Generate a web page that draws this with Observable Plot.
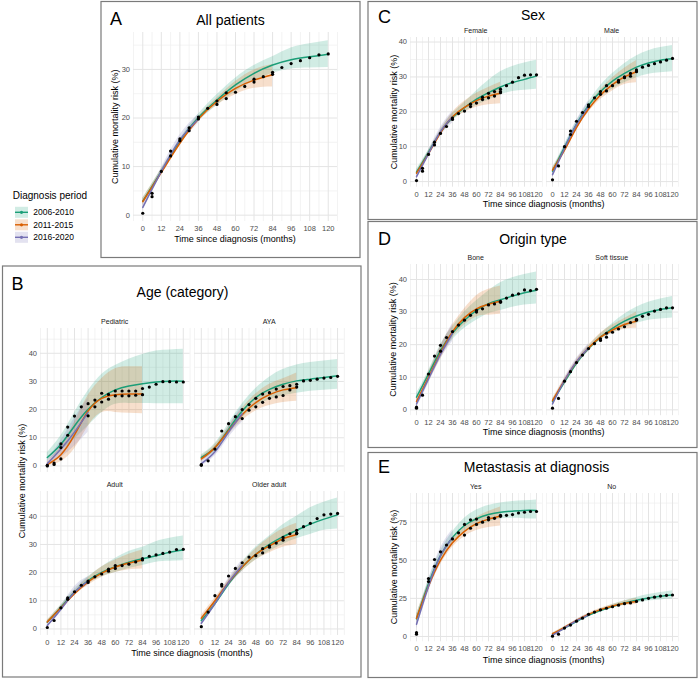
<!DOCTYPE html>
<html><head><meta charset="utf-8">
<script src="https://cdn.jsdelivr.net/npm/d3@7"></script>
<script src="https://cdn.jsdelivr.net/npm/@observablehq/plot@0.6"></script>
<style>
body{margin:0;background:#fff;}
#fig{position:relative;width:700px;height:679px;overflow:hidden;background:#fff;font-family:"Liberation Sans",Arial,sans-serif;}
</style></head><body><div id="fig"></div>
<script>
// ---------- data ----------
const periods = ["2006-2010", "2011-2015", "2016-2020"];
const colors = ["#1b9e77", "#d95f02", "#7570b3"];
const times = [0, 12, 24, 36, 48, 60, 72, 84, 96, 108, 120];
const xMajor = [0, 12, 24, 36, 48, 60, 72, 84, 96, 108, 120];
const xMinor = [-6, 6, 18, 30, 42, 54, 66, 78, 90, 102, 114, 126];
// rows: [fit, lower, upper] at times[i]
// A  All patients
const allG = [[2.9,2.2,3.5],[9.0,8.5,9.5],[15.3,14.8,15.7],[20.1,19.3,20.8],[23.7,22.6,24.8],[26.8,25.4,28.2],[29.2,27.6,30.8],[30.9,29.2,32.6],[32.0,30.1,34.4],[32.6,30.3,35.3],[33.1,30.4,35.9]];
const allO = [[2.8,2.0,3.5],[8.8,8.2,9.4],[14.8,14.3,15.3],[19.8,19.3,20.3],[23.4,22.6,24.1],[26.1,24.8,27.5],[27.8,26.1,29.9],[28.9,26.4,31.0]];
const allP = [[1.6,0.9,2.2],[9.0,8.3,9.7],[15.5,14.5,16.5],[19.8,18.9,20.8]];
const allDots = [[0,0.4],[6,4.5,3.8],[12,9.0],[18,13.2,12.2],[24,15.7,15.3],[30,18.0,17.4],[36,20.2,19.8],[42,22.0],[48,23.5,22.8],[54,25.2,24.0],[60,25.3],[66,26.5],[72,28.0,27.4],[78,28.5],[84,29.4,29.0],[90,30.4],[96,31.2],[102,31.8],[108,32.4],[114,33.0],[120,33.2]];
// B  Age (category)
const pedG = [[3.0,1.8,4.7],[7.7,5.3,10.7],[14.2,9.5,18.9],[20.1,14.2,26.6],[24.3,18.9,32.5],[27.0,21.9,35.7],[28.4,22.2,37.9],[29.2,22.2,39.6],[29.8,22.1,40.8],[30.1,22.1,41.2],[30.1,22.1,41.4]];
const pedO = [[0.5,0.0,1.5],[4.0,1.5,7.0],[11.0,6.0,15.5],[19.5,14.0,25.0],[24.0,18.9,31.0],[25.3,19.0,34.5],[25.5,18.7,35.2],[25.5,18.5,35.2]];
const pedP = [[0.8,0.0,2.0],[6.0,3.0,9.0],[12.0,7.0,17.0],[19.0,12.0,24.0]];
const pedDots = [[0,0.0,0.2],[6,0.5,1.0],[12,2.5,6.5,7.8],[18,13.8,10.9],[24,17.7],[30,21.0],[36,22.1,17.8],[42,23.4,21.0],[48,25.8,22.7],[54,25.4,23.7],[60,26.6,24.9],[66,26.6,24.9],[72,26.6,24.9],[78,26.6,25.1],[84,27.5,25.3],[90,28.0],[96,29.0],[102,29.9],[108,29.9],[114,29.8],[120,29.8]];
const ayaG = [[3.0,2.0,4.0],[6.5,5.0,8.0],[13.0,11.0,15.0],[19.5,17.0,22.0],[24.3,21.0,27.5],[27.2,23.5,31.5],[29.0,24.9,34.2],[30.2,25.8,35.8],[30.8,26.5,36.7],[31.4,26.9,37.3],[32.0,27.2,37.8]];
const ayaO = [[2.5,1.5,3.5],[6.5,5.5,7.5],[12.5,11.0,14.0],[18.2,16.0,20.5],[22.5,19.5,25.5],[25.3,21.5,29.0],[27.0,22.5,31.0],[27.8,23.0,33.0]];
const ayaP = [[0.8,0.0,2.0],[5.0,3.5,6.5],[12.0,10.0,14.0],[18.5,15.5,21.5]];
const ayaDots = [[0,0.2,0.5],[6,1.8],[12,6.0],[18,12.4],[24,15.0],[30,17.5],[36,20.0,16.8],[42,21.8,19.8],[48,24.0,21.0],[54,25.5,22.6],[60,26.0,24.0],[66,27.3,24.5],[72,28.2,25.0],[78,28.5,27.0],[84,29.0,28.0],[90,30.2],[96,30.4],[102,30.8],[108,31.2],[114,31.4],[120,31.8]];
const adultG = [[2.4,1.8,3.0],[7.7,7.0,8.5],[13.0,12.0,14.0],[17.2,16.0,18.5],[20.1,18.5,22.0],[22.1,20.0,25.0],[23.7,21.5,27.5],[24.9,22.5,29.0],[26.0,23.7,31.0],[27.2,24.0,32.2],[28.0,24.2,33.0]];
const adultO = [[2.5,1.8,3.2],[7.5,6.8,8.2],[12.5,11.8,13.5],[16.7,15.5,18.2],[19.8,18.3,22.0],[22.0,20.0,24.5],[23.4,21.0,26.5],[24.5,21.3,28.0]];
const adultP = [[1.2,0.5,2.0],[7.0,6.0,8.0],[13.0,12.0,15.0],[17.0,15.5,18.5]];
const adultDots = [[0,0.5],[6,3.0],[12,7.5],[18,11.0,10.5],[24,13.2],[30,15.5],[36,17.0,16.5],[42,18.5],[48,19.5],[54,21.2,20.5],[60,22.5,21.5],[66,22.5],[72,23.0],[78,23.8],[84,25.0,24.5],[90,25.8],[96,26.3],[102,26.8],[108,27.3],[114,28.2],[120,28.3]];
const olderG = [[3.0,2.0,4.0],[9.0,8.0,10.0],[16.0,15.0,17.0],[22.0,20.5,23.7],[26.5,24.5,29.0],[30.0,27.5,33.0],[32.8,30.0,37.0],[35.0,32.0,40.0],[37.2,33.5,43.0],[39.0,35.0,45.0],[40.5,35.5,46.5]];
const olderO = [[3.8,3.0,4.8],[10.0,9.0,11.0],[16.5,15.5,17.5],[22.0,20.5,23.5],[26.5,24.5,28.5],[29.5,27.0,32.5],[32.0,29.0,35.5],[33.5,30.0,37.5]];
const olderP = [[2.0,1.0,3.0],[9.0,8.0,10.0],[16.5,15.0,18.0],[22.5,20.5,24.5]];
const olderDots = [[0,0.8],[6,6.0],[12,11.8],[18,15.8,15.2],[24,18.8],[30,21.5],[36,23.5],[42,25.5],[48,26.0],[54,28.5,27.0],[60,29.0,29.5],[66,30.5],[72,32.5,31.5],[78,33.8],[84,35.0,34.0,33.8],[90,36.3],[96,37.5],[102,39.2],[108,40.5],[114,40.8],[120,41.0]];
// C  Sex
const femG = [[2.7,2.0,3.5],[8.4,7.8,9.0],[14.1,13.4,14.8],[18.4,17.5,19.5],[21.2,20.0,22.7],[23.6,21.8,26.0],[25.5,23.3,29.0],[27.1,24.8,31.5],[28.4,25.8,33.0],[29.3,26.2,34.0],[30.3,26.5,34.8]];
const femO = [[2.4,1.8,3.0],[8.0,7.3,8.7],[14.0,13.2,14.8],[18.6,17.5,19.8],[21.3,19.8,23.0],[23.2,21.3,25.3],[24.5,22.0,27.0],[25.3,22.3,28.5]];
const femP = [[1.4,0.5,2.3],[8.0,7.0,9.0],[14.3,13.0,15.5],[18.5,16.8,20.2]];
const femDots = [[0,0.3],[6,3.0,3.8],[12,7.8],[18,11.3,10.5],[24,13.8],[30,15.8],[36,18.2,17.8],[42,19.5],[48,20.2],[54,22.2,21.5],[60,22.5],[66,24.2,23.5],[72,25.3,24.0],[78,25.8,24.5],[84,26.5,25.8,25.5],[90,27.5],[96,28.5],[102,29.8],[108,30.5],[114,30.6],[120,30.6]];
const maleG = [[3.0,2.2,3.8],[9.8,9.0,10.5],[16.5,15.7,17.2],[21.8,20.8,22.8],[25.8,24.3,27.5],[28.8,26.5,31.0],[31.0,28.3,33.8],[32.8,29.8,36.0],[34.0,30.8,37.5],[34.8,31.2,38.4],[35.2,31.5,39.0]];
const maleO = [[3.3,2.5,4.0],[9.0,8.3,9.8],[15.5,14.8,16.3],[20.8,19.8,21.8],[24.8,23.5,26.3],[27.8,26.0,29.8],[30.0,27.8,32.5],[31.5,28.3,34.7]];
const maleP = [[2.0,1.0,3.0],[9.5,8.5,10.5],[16.3,15.0,17.6],[21.5,19.8,23.2]];
const maleDots = [[0,0.5],[6,4.5],[12,10.0],[18,14.5,13.5],[24,17.3],[30,19.8],[36,22.0,21.5],[42,24.0],[48,25.8,25.0],[54,27.5,26.0],[60,27.5],[66,29.0,28.5],[72,30.0,29.8],[78,31.0,30.2],[84,32.0,31.5],[90,32.8],[96,33.3],[102,33.8],[108,34.3],[114,34.8],[120,35.3]];
// D  Origin type
const boneG = [[3.9,3.0,5.0],[11.0,10.0,12.0],[18.2,16.5,20.0],[23.6,21.5,25.5],[27.5,25.0,30.0],[30.5,27.5,33.5],[32.6,29.5,36.5],[33.8,30.5,39.0],[34.9,31.5,40.5],[35.9,32.2,41.5],[36.7,32.5,42.3]];
const boneO = [[2.5,1.5,3.5],[10.0,8.5,11.5],[17.5,15.5,19.5],[24.0,22.0,26.0],[28.3,26.0,31.0],[31.0,28.5,35.0],[32.4,29.0,37.0],[33.3,29.3,38.0]];
const boneP = [[1.8,0.5,3.0],[9.5,8.0,11.0],[17.0,15.5,19.5],[23.5,21.0,26.5]];
const boneDots = [[0,0.5,0.8],[6,4.5],[12,11.0],[18,16.5],[24,19.8,18.0],[30,22.2],[36,24.0],[42,26.0],[48,27.5],[54,29.0],[60,30.5,30.0],[66,31.0],[72,32.2],[78,32.5],[84,33.3,33.0],[90,34.3],[96,35.2],[102,35.6],[108,36.8],[114,36.6],[120,37.0]];
const softG = [[2.5,2.0,3.2],[8.5,8.0,9.0],[14.3,13.7,15.0],[18.8,18.0,19.6],[22.3,21.3,23.3],[25.0,23.5,26.5],[27.2,25.2,29.3],[28.8,26.5,31.5],[30.0,27.5,33.0],[30.8,27.9,34.0],[31.3,28.2,34.8]];
const softO = [[2.8,2.2,3.4],[9.0,8.4,9.6],[14.7,14.0,15.4],[19.0,18.3,19.8],[22.3,21.5,23.5],[24.5,23.5,26.0],[26.2,24.7,28.0],[27.2,25.0,30.0]];
const softP = [[1.8,1.0,2.7],[9.0,8.2,9.8],[14.8,14.0,15.8],[19.0,17.8,20.3]];
const softDots = [[0,0.5],[6,3.5],[12,8.8],[18,11.7],[24,14.5],[30,16.8],[36,18.8],[42,20.3],[48,21.8,21.3],[54,23.5,22.3],[60,23.8],[66,24.8],[72,25.5],[78,26.8],[84,27.8,27.5],[90,28.7],[96,29.3],[102,30.3],[108,30.8],[114,31.3],[120,31.3]];
// E  Metastasis at diagnosis
const yesG = [[11.6,9.0,14.0],[34.5,32.0,37.0],[53.0,50.0,56.0],[65.0,61.5,68.5],[72.8,68.5,77.5],[77.2,72.0,83.0],[80.0,75.0,86.0],[81.5,77.0,87.5],[82.2,77.5,88.5],[82.7,77.3,89.0],[82.7,77.0,89.5]];
const yesO = [[12.0,9.5,14.5],[33.0,30.5,35.5],[50.0,47.0,53.0],[61.5,58.5,64.5],[69.0,65.5,72.0],[74.0,69.5,78.0],[77.0,71.5,82.0],[79.0,72.5,85.0]];
const yesP = [[8.0,5.0,11.0],[33.0,29.0,37.0],[53.0,48.0,58.0],[65.0,60.0,70.0]];
const yesDots = [[0,2.5,1.5],[12,38.0,36.0],[18,50.5,46.0],[24,55.5],[30,60.0],[36,64.0],[42,68.0],[48,73.5,66.5],[54,76.5,71.0],[60,77.0,73.5],[66,75.0],[72,78.0,76.5],[78,77.5],[84,79.5,78.8],[90,79.5],[96,80.0],[102,81.0],[108,81.5],[114,82.0],[120,82.0]];
const noG = [[1.5,1.0,2.0],[5.5,5.0,6.0],[9.8,9.2,10.4],[13.8,13.0,14.6],[17.0,16.0,18.0],[19.7,18.5,21.0],[22.0,20.5,23.5],[23.8,22.0,25.6],[25.3,23.3,27.5],[26.4,24.0,28.8],[27.2,24.5,30.0]];
const noO = [[1.8,1.3,2.3],[6.0,5.5,6.5],[10.5,10.0,11.0],[14.5,13.8,15.2],[17.6,16.8,18.5],[20.0,19.0,21.0],[21.8,20.3,23.3],[23.0,21.0,25.0]];
const noP = [[0.8,0.3,1.5],[5.5,5.0,6.2],[10.3,9.5,11.2],[14.0,13.0,15.0]];
const noDots = [[0,0.2],[6,1.5],[12,5.5],[18,7.5],[24,10.0],[30,12.0],[36,14.5],[42,16.0],[48,17.5],[54,18.5],[60,19.5],[66,20.5],[72,21.5],[78,22.0],[84,23.0],[90,24.0],[96,25.0],[102,25.8],[108,26.5],[114,27.0],[120,27.2]];

// ---------- layout ----------
const FONT = "Liberation Sans, Arial, Helvetica, sans-serif";
const fig = document.getElementById("fig");
const yB = [-2.33, 48.8], yBt = [0,10,20,30,40], yBm = [5,15,25,35,45];
const facets = [
  {L:133, R:337, T:32.3, B:221.3, ydom:[-1.3,37.6], yt:[0,10,20,30], ym:[5,15,25,35], showX:true, showY:true, g:allG, o:allO, p:allP, dots:allDots},
  {L:39.9, R:189.5, T:327.6, B:471.6, ydom:yB, yt:yBt, ym:yBm, showX:false, showY:true, strip:"Pediatric", g:pedG, o:pedO, p:pedP, dots:pedDots},
  {L:194.2, R:344.1, T:327.6, B:471.6, ydom:yB, yt:yBt, ym:yBm, showX:false, showY:false, strip:"AYA", g:ayaG, o:ayaO, p:ayaP, dots:ayaDots},
  {L:39.9, R:189.5, T:490.9, B:634.9, ydom:yB, yt:yBt, ym:yBm, showX:true, showY:true, strip:"Adult", g:adultG, o:adultO, p:adultP, dots:adultDots},
  {L:194.2, R:344.1, T:490.9, B:634.9, ydom:yB, yt:yBt, ym:yBm, showX:true, showY:false, strip:"Older adult", g:olderG, o:olderO, p:olderP, dots:olderDots},
  {L:409.7, R:541.7, T:37.2, B:186.9, ydom:[-1.6,41.3], yt:[0,10,20,30,40], ym:[5,15,25,35], showX:true, showY:true, strip:"Female", g:femG, o:femO, p:femP, dots:femDots},
  {L:545.7, R:677.7, T:37.2, B:186.9, ydom:[-1.6,41.3], yt:[0,10,20,30,40], ym:[5,15,25,35], showX:true, showY:false, strip:"Male", g:maleG, o:maleO, p:maleP, dots:maleDots},
  {L:409.7, R:541.7, T:264, B:415.2, ydom:[-1.8,44.6], yt:[0,10,20,30,40], ym:[5,15,25,35], showX:true, showY:true, strip:"Bone", g:boneG, o:boneO, p:boneP, dots:boneDots},
  {L:545.7, R:677.7, T:264, B:415.2, ydom:[-1.8,44.6], yt:[0,10,20,30,40], ym:[5,15,25,35], showX:true, showY:false, strip:"Soft tissue", g:softG, o:softO, p:softP, dots:softDots},
  {L:409.7, R:541.7, T:493, B:641.3, ydom:[-3.5,93.8], yt:[0,25,50,75], ym:[12.5,37.5,62.5,87.5], showX:true, showY:true, strip:"Yes", g:yesG, o:yesO, p:yesP, dots:yesDots},
  {L:545.7, R:677.7, T:493, B:641.3, ydom:[-3.5,93.8], yt:[0,25,50,75], ym:[12.5,37.5,62.5,87.5], showX:true, showY:false, strip:"No", g:noG, o:noO, p:noP, dots:noDots}
];

function series(arr, period) {
  return arr.map((d, i) => ({t: times[i], fit: d[0], lo: d[1], hi: d[2], period}));
}

function drawFacet(f) {
  const mL = 22, mR = 2, mT = 2, mB = 14;
  const width = (f.R - f.L) + mL + mR, height = (f.B - f.T) + mT + mB;
  const rows = [...series(f.g, periods[0]), ...series(f.o, periods[1]), ...series(f.p, periods[2])];
  const pts = f.dots.flatMap(r => r.slice(1).map(v => ({t: r[0], v})));
  const marks = [
    Plot.ruleX(xMinor, {stroke: "#eeeeee", strokeWidth: 0.7}),
    Plot.ruleY(f.ym, {stroke: "#eeeeee", strokeWidth: 0.7}),
    Plot.ruleX(xMajor, {stroke: "#e4e4e4", strokeWidth: 1}),
    Plot.ruleY(f.yt, {stroke: "#e4e4e4", strokeWidth: 1}),
    Plot.areaY(rows, {x: "t", y1: "lo", y2: "hi", fill: "period", fillOpacity: 0.2, curve: "natural"}),
    Plot.line(rows, {x: "t", y: "fit", stroke: "period", strokeWidth: 1.5, curve: "natural"}),
    Plot.dot(pts, {x: "t", y: "v", r: 1.6, fill: "black", stroke: "none"})
  ];
  if (f.showX) marks.push(Plot.axisX(xMajor, {tickSize: 0, tickPadding: 4, label: null, tickFormat: d => String(d)}));
  if (f.showY) marks.push(Plot.axisY(f.yt, {tickSize: 0, tickPadding: 3.5, label: null, tickFormat: d => String(d)}));
  const svg = Plot.plot({
    width, height, marginLeft: mL, marginRight: mR, marginTop: mT, marginBottom: mB,
    x: {domain: [-6, 126], ...(f.showX ? {} : {axis: null})},
    y: {domain: f.ydom, ...(f.showY ? {} : {axis: null})},
    color: {domain: periods, range: colors},
    style: {background: "transparent", color: "#4d4d4d", fontSize: "7.5px", fontFamily: FONT, overflow: "visible"},
    marks
  });
  svg.style.position = "absolute";
  svg.style.left = (f.L - mL) + "px";
  svg.style.top = (f.T - mT) + "px";
  svg.style.maxWidth = "none";
  fig.appendChild(svg);
}
facets.forEach(drawFacet);

// ---------- overlay: boxes, titles, strips, axis titles, legend ----------
const ov = d3.create("svg").attr("width", 700).attr("height", 679)
  .style("position", "absolute").style("left", "0px").style("top", "0px")
  .style("font-family", FONT);
const boxes = [[101,1.5,259,256],[2.5,266,358.5,411],[368,1.5,329,218],[368,221.5,329,226],[368,452.5,329,225]];
boxes.forEach(([x,y,w,h]) => ov.append("rect").attr("x",x).attr("y",y).attr("width",w).attr("height",h)
  .attr("fill","none").attr("stroke","#7a7a7a").attr("stroke-width",1.2));
function txt(x, y, s, size, o = {}) {
  const t = ov.append("text").attr("x", x).attr("y", y).text(s)
    .attr("font-size", size).attr("fill", o.fill || "#000")
    .attr("text-anchor", o.anchor || "middle");
  if (o.rotate) t.attr("transform", `rotate(-90,${x},${y})`);
  return t;
}
// panel letters and titles
const letters = [["A",110,25],["B",11.5,290],["C",378,22.7],["D",378,245],["E",378,473.3]];
letters.forEach(([s,x,y]) => txt(x, y, s, 18, {anchor: "start"}));
const titles = [["All patients",230.5,25],["Age (category)",182.5,297.3],["Sex",533,20],["Origin type",533,244],["Metastasis at diagnosis",536.5,471.7]];
titles.forEach(([s,x,y]) => txt(x, y, s, 14));
// strips
facets.filter(f => f.strip).forEach(f => txt((f.L + f.R) / 2, f.T - 4, f.strip, 7, {fill: "#1a1a1a"}));
// axis titles
const xt = "Time since diagnosis (months)", yt = "Cumulative mortality risk (%)";
[[235,242.2],[192,655.9],[543.7,207.2],[543.7,434.9],[543.7,663.2]].forEach(([x,y]) => txt(x, y, xt, 9));
[[118.2,126.8],[24.9,481],[396.5,112],[396.5,339.6],[396.5,567]].forEach(([x,y]) => txt(x, y, yt, 9, {rotate: true}));
// legend
txt(12.7, 198.6, "Diagnosis period", 10, {anchor: "start"});
periods.forEach((p, i) => {
  const cy = 212.3 + i * 12.5;
  ov.append("rect").attr("x", 15).attr("y", cy - 5.5).attr("width", 13).attr("height", 11)
    .attr("fill", colors[i]).attr("fill-opacity", 0.2);
  ov.append("line").attr("x1", 15).attr("x2", 28).attr("y1", cy).attr("y2", cy)
    .attr("stroke", colors[i]).attr("stroke-width", 1.4);
  ov.append("circle").attr("cx", 21.5).attr("cy", cy).attr("r", 1.6).attr("fill", colors[i]);
  txt(33.3, cy + 3, p, 8.5, {anchor: "start"});
});
fig.appendChild(ov.node());
</script></body></html>
